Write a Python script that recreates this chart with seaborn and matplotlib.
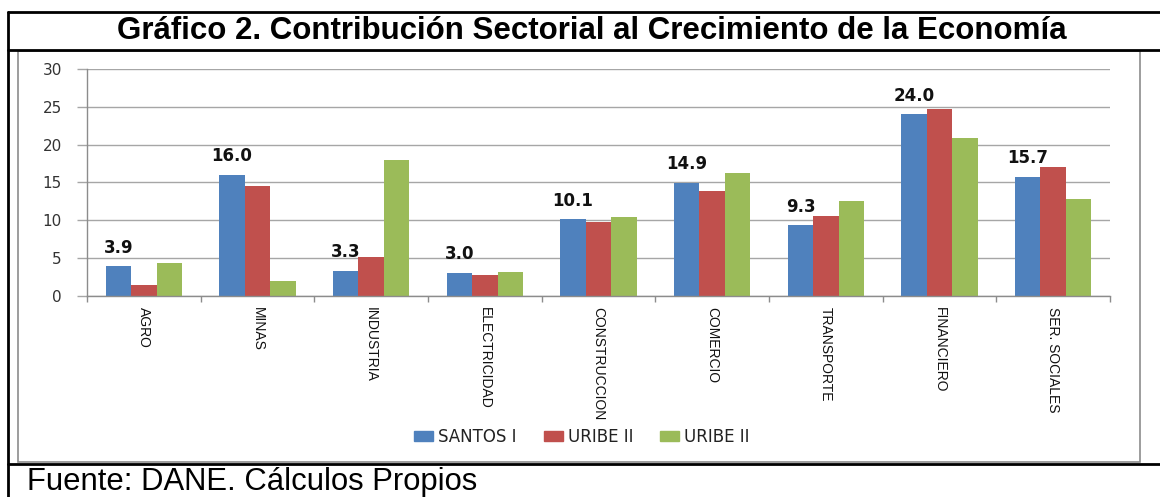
import pandas as pd
import matplotlib.pyplot as plt
import seaborn as sns
from matplotlib.lines import Line2D
from matplotlib.patches import Rectangle

# --- data ---
sectores = ["AGRO", "MINAS", "INDUSTRIA", "ELECTRICIDAD", "CONSTRUCCION",
            "COMERCIO", "TRANSPORTE", "FINANCIERO", "SER. SOCIALES"]
santos_1 = [3.9, 16.0, 3.3, 3.0, 10.1, 14.9, 9.3, 24.0, 15.7]
uribe_2a = [1.4, 14.5, 5.1, 2.7, 9.7, 13.9, 10.5, 24.7, 17.0]
uribe_2b = [4.3, 2.0, 18.0, 3.1, 10.4, 16.2, 12.5, 20.9, 12.8]
series = ["s1", "s2", "s3"]
legend_labels = ["SANTOS I", "URIBE II", "URIBE II"]
yticks = [0, 5, 10, 15, 20, 25, 30]

# --- Excel 2007 palette ---
colores = ["#4F81BD", "#C0504D", "#9BBB59"]

df = pd.DataFrame({
    "sector": sectores * 3,
    "valor": santos_1 + uribe_2a + uribe_2b,
    "serie": [s for s in series for _ in sectores],
})

sns.set_style("white")
plt.rcParams['font.family'] = ['DejaVu Sans']

W, H = 1160, 497
fig = plt.figure(figsize=(W / 100, H / 100), dpi=100)

def fx(px):
    return px / W

def fy(py):
    return 1 - py / H

# table-like borders
black = dict(color="black", lw=2, transform=fig.transFigure)
fig.add_artist(Line2D([fx(8), 1], [fy(12), fy(12)], **black))
fig.add_artist(Line2D([fx(8), 1], [fy(50), fy(50)], **black))
fig.add_artist(Line2D([fx(8), 1], [fy(464), fy(464)], **black))
fig.add_artist(Line2D([fx(8), fx(8)], [fy(12), 0], **black))
fig.add_artist(Rectangle((fx(18), fy(462)), fx(1140) - fx(18), fy(51) - fy(462),
                         transform=fig.transFigure, fill=False,
                         edgecolor="#8c8c8c", lw=1.2))

fig.text(fx(592), fy(31), "Gráfico 2. Contribución Sectorial al Crecimiento de la Economía",
         ha="center", va="center", fontsize=22.5, fontweight="bold", color="black",
         family=["Liberation Sans", "DejaVu Sans"])
fig.text(fx(27), fy(490), "Fuente: DANE. Cálculos Propios", ha="left", va="baseline",
         fontsize=22.3, color="black", family=["Liberation Sans", "DejaVu Sans"])

ax = fig.add_axes([fx(87), fy(295.7), fx(1110) - fx(87), fy(69) - fy(295.7)])
sns.barplot(data=df, x="sector", y="valor", hue="serie", hue_order=series,
            palette=colores, saturation=1, width=0.67, gap=0, linewidth=0,
            ax=ax, legend=False)

ax.set_ylim(0, 30)
ax.set_xlim(-0.5, len(sectores) - 0.5)
ax.set_yticks(yticks)
ax.set_xlabel("")
ax.set_ylabel("")
ax.yaxis.grid(True, color="#a6a6a6", lw=1)
ax.set_axisbelow(True)
for s in ["top", "right"]:
    ax.spines[s].set_visible(False)
for s in ["left", "bottom"]:
    ax.spines[s].set_color("#8c8c8c")
    ax.spines[s].set_linewidth(1)

ax.tick_params(axis="y", length=7.2, width=1, color="#a6a6a6", pad=11,
               labelsize=11, labelcolor="#333333", left=True)
ax.set_xticks(range(len(sectores)))
ax.set_xticklabels(sectores, rotation=-90, va="top", ha="center", color="#111111",
                   family=["Liberation Sans Narrow", "Liberation Sans"], fontsize=10)
ax.tick_params(axis="x", which="major", length=0, pad=8)
ax.set_xticks([i - 0.5 for i in range(len(sectores) + 1)], minor=True)
ax.tick_params(axis="x", which="minor", length=4.3, width=1, color="#8c8c8c", bottom=True)

ax.bar_label(ax.containers[0], fmt="%.1f", padding=7, fontsize=12, fontweight="bold",
             color="#111111")

handles = [Rectangle((0, 0), 1, 1, color=c) for c in colores]
fig.legend(handles, legend_labels, loc="center", bbox_to_anchor=(fx(582), fy(437)),
           ncol=3, frameon=False, fontsize=12, handlelength=1.15, handleheight=0.55,
           handletextpad=0.3, columnspacing=1.6, labelcolor="#222222")

fig.savefig("out.png", dpi=100)
